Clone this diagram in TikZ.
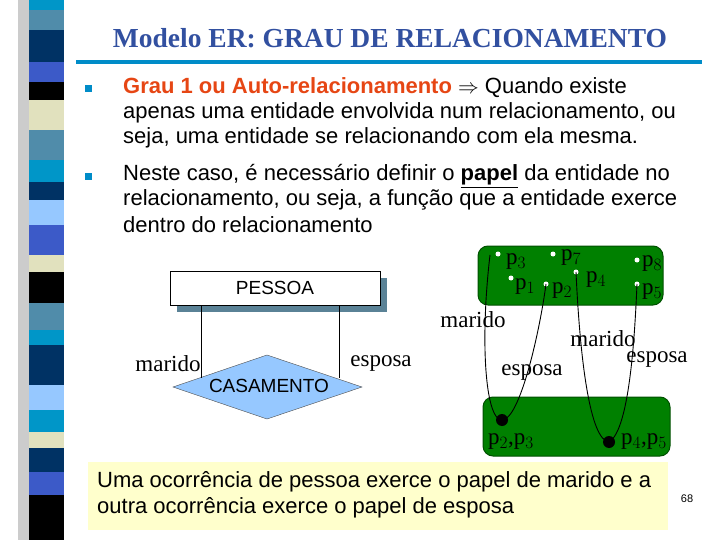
\documentclass[tikz,border=0pt]{standalone}
\usepackage{fontspec}
\setmainfont{Liberation Serif}
\newfontfamily\arial{Liberation Sans}
\definecolor{sC}{RGB}{0,150,200}
\definecolor{sS}{RGB}{80,140,170}
\definecolor{sN}{RGB}{0,50,100}
\definecolor{sR}{RGB}{60,90,200}
\definecolor{sB}{RGB}{225,225,190}
\definecolor{sL}{RGB}{150,200,255}
\definecolor{ttl}{RGB}{50,80,160}
\definecolor{linec}{RGB}{0,140,200}
\definecolor{grn}{RGB}{0,128,0}
\definecolor{grnd}{RGB}{0,80,0}
\definecolor{org}{RGB}{230,70,20}
\definecolor{yel}{RGB}{255,255,204}
\definecolor{shad}{RGB}{90,130,150}
\definecolor{dia}{RGB}{150,200,255}
\tikzset{
 body/.style={anchor=west,font=\arial\fontsize{22}{24}\selectfont,inner sep=0},
 rom/.style={font=\fontsize{23}{24}\selectfont,inner sep=0},
 pl/.style={font=\fontsize{23}{24}\selectfont,inner sep=0,anchor=west},
 wdot/.style={circle,fill=white,inner sep=0,minimum size=5pt},
 bdot/.style={circle,fill=black,inner sep=0,minimum size=12pt},
 gbox/.style={fill=grn,draw=grnd,rounded corners=10pt,line width=1pt},
 bul/.style={fill=linec,minimum size=7pt,inner sep=0},
 curve/.style={line width=0.9pt}
}
\begin{document}
\begin{tikzpicture}[x=1pt,y=-1pt]
\useasboundingbox (0,0) rectangle (720,540);
% stripe
\fill[gray!40] (18,0) rectangle (30,540);
\foreach \a/\b/\c in {0/10/sC,10/30/sS,30/62/sN,62/82/sR,82/100/black,100/130/sB,130/160/sS,160/182/sC,182/200/sN,200/225/sL,225/255/sR,255/272/sB,272/303/black,303/330/sS,330/345/sC,345/385/sN,385/410/sL,410/432/sC,432/448/sB,448/472/sN,472/495/sR,495/540/black}
 \fill[\c] (29,\a) rectangle (64,\b);
% title
\node[font=\fontsize{27.5}{28}\selectfont\bfseries,text=ttl] (title) at (390,38) {Modelo ER: GRAU DE RELACIONAMENTO};
\fill[linec] (76,60) rectangle (702,64);
% bullets
\node[bul] (b1) at (88,89) {};
\node[bul] (b2) at (88,177) {};
\node[body] (l1) at (123,88) {\textcolor{org}{\bfseries Grau 1 ou Auto-relacionamento} $\Rightarrow$ Quando existe};
\node[body] (l2) at (123,113) {apenas uma entidade envolvida num relacionamento, ou};
\node[body] (l3) at (123,138) {seja, uma entidade se relacionando com ela mesma.};
\node[body] (l4) at (123,176) {Neste caso, é necessário definir o \textbf{\underline{papel}} da entidade no};
\node[body] (l5) at (123,200) {relacionamento, ou seja, a função que a entidade exerce};
\node[body] (l6) at (123,225) {dentro do relacionamento};
% ER
\fill[shad] (177,278) rectangle (387,312);
\node[draw=black,fill=white,minimum width=210pt,minimum height=34pt,inner sep=0,font=\arial\fontsize{19}{20}\selectfont] (pes) at (275,288) {PESSOA};
\draw[black!70,fill=dia] (173,387) -- (267,355) -- (362,387) -- (267,419) -- cycle;
\node[font=\arial\fontsize{19}{20}\selectfont] (castx) at (269,386) {CASAMENTO};
\coordinate (m1) at (201,305); \coordinate (m2) at (201,378);
\coordinate (e1) at (339,305); \coordinate (e2) at (339,378);
\draw (m1) -- (m2); \draw (e1) -- (e2);
\node[rom] (lm) at (168,364) {marido};
\node[rom] (le) at (381,364) {esposa};
% green boxes
\draw[gbox] (478,246) rectangle (663,305);
\draw[gbox] (483,397) rectangle (670,456);
\node[wdot] (p3) at (498,254) {}; \node[pl] at (506,262) {p$_3$};
\node[wdot] (p7) at (553,254) {}; \node[pl] at (561,258) {p$_7$};
\node[wdot] (p8) at (637,260) {}; \node[pl] at (642,264) {p$_8$};
\node[wdot] (p1) at (511,278) {}; \node[pl] at (515,287) {p$_1$};
\node[wdot] (p2) at (546,284) {}; \node[pl] at (552,291) {p$_2$};
\node[wdot] (p4) at (576,272) {}; \node[pl] at (586,280) {p$_4$};
\node[wdot] (p5) at (637,284) {}; \node[pl] at (642,292) {p$_5$};
\node[bdot] (q1) at (502,420) {};
\node[bdot] (q2) at (609,442) {};
\node[pl] at (488,442) {p$_2$,p$_3$};
\node[pl] at (621,442) {p$_4$,p$_5$};
\coordinate (c1) at (490,255);
\draw[curve] (c1) .. controls (480,340) and (485,420) .. (q1.center) .. controls (520,420) and (540,330) .. (p2.center);
\draw[curve] (p4.center) .. controls (580,360) and (590,440) .. (q2.center) .. controls (630,430) and (635,330) .. (p5.center);
\node[rom] (t1) at (473,320) {marido};
\node[rom] (t2) at (532,373) {esposa};
\node[rom] (t3) at (603,339) {marido};
\node[rom] (t4) at (657,360) {esposa};
% note
\node[fill=yel,minimum width=580pt,minimum height=68pt,inner sep=0] (note) at (378,496) {};
\node[body] (n1) at (97,482) {Uma ocorrência de pessoa exerce o papel de marido e a};
\node[body] (n2) at (97,508) {outra ocorrência exerce o papel de esposa};
\node[font=\arial\fontsize{11}{12}\selectfont] (pg) at (687,499) {68};
\end{tikzpicture}
\end{document}
